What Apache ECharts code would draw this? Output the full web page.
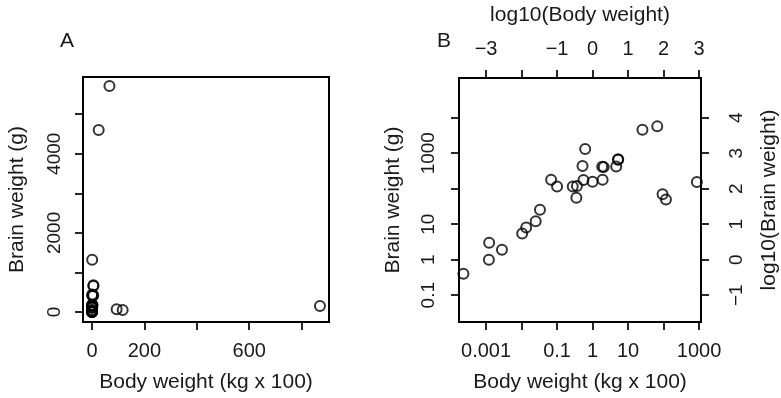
<!DOCTYPE html>
<html><head><meta charset="utf-8">
<script src="https://cdn.jsdelivr.net/npm/echarts@6/dist/echarts.min.js"></script>
<style>html,body{margin:0;padding:0;background:#fff}#c{width:781px;height:398px}</style>
</head><body><div id="c"></div>
<script>
// Animals: body weight (kg x 100) and brain weight (g)
const animals = ["Mountain beaver","Cow","Grey wolf","Goat","Guinea pig","Dipliodocus","Asian elephant","Donkey","Horse","Potar monkey","Cat","Giraffe","Gorilla","Human","African elephant","Triceratops","Rhesus monkey","Kangaroo","Golden hamster","Mouse","Rabbit","Sheep","Jaguar","Chimpanzee","Rat","Brachiosaurus","Mole","Pig"];
const bodyWeight = [0.0135,4.65,0.3633,0.2766,0.0104,117,25.47,1.871,5.21,0.1,0.033,5.29,2.07,0.62,66.54,94,0.068,0.35,0.0012,0.00023,0.025,0.555,1.0,0.5216,0.0028,870,0.00122,1.92];
const brainWeight = [8.1,423,119.5,115,5.5,50,4603,419,655,115,25.6,680,406,1320,5712,70,179,56,1,0.4,12.1,175,157,440,1.9,154.5,3,180];

const aXTicks = [0,200,400,600,800];
const aXLabels = [0,200,600];
const aYTicks = [0,1000,2000,3000,4000,5000];
const aYLabels = [0,2000,4000];
const bXTicks = [0.001,0.01,0.1,1,10,100,1000];
const bXLabels = [0.001,0.1,1,10,1000];
const bTopTicks = [-3,-2,-1,0,1,2,3];
const bTopLabels = [-3,-1,0,1,2,3];
const bYTicks = [0.1,1,10,100,1000,10000];
const bYLabels = [0.1,1,10,1000];
const bRightTicks = [-1,0,1,2,3,4];
const bRightLabels = [-1,0,1,2,3,4];

const points = bodyWeight.map((b,i)=>[b, brainWeight[i], animals[i]]);

const FONT = 'Liberation Sans, Arial, Helvetica, sans-serif';
const TXT = '#1a1a1a';
const fmtNum = v => String(Number(Number(v).toPrecision(6))).replace('-', '\u2212');

function axisCommon(ticks, labels, extra) {
  return Object.assign({
    axisLine: {show: false, onZero: false},
    axisTick: {show: true, inside: false, length: 8, customValues: ticks, lineStyle: {color: '#000', width: 1.7}},
    axisLabel: {show: true, customValues: labels, formatter: fmtNum, color: TXT, fontSize: 20, fontFamily: FONT, margin: 19},
    splitLine: {show: false},
    nameTextStyle: {color: TXT, fontSize: 21, fontFamily: FONT},
    nameLocation: 'middle'
  }, extra);
}

const chart = echarts.init(document.getElementById('c'), null, {renderer: 'canvas'});
const option = {
  animation: false,
  backgroundColor: '#fff',
  grid: [
    {left: 83, top: 77, width: 246, height: 245, show: true, borderColor: '#000', borderWidth: 2, backgroundColor: 'transparent'},
    {left: 459, top: 77, width: 245, height: 245, show: true, borderColor: '#000', borderWidth: 2, backgroundColor: 'transparent'}
  ],
  graphic: [
    {type: 'text', left: 60, top: 31, style: {text: 'A', fontSize: 21, fontFamily: FONT, fill: TXT}},
    {type: 'text', left: 437, top: 31, style: {text: 'B', fontSize: 21, fontFamily: FONT, fill: TXT}}
  ],
  xAxis: [
    axisCommon(aXTicks, aXLabels, {type: 'value', gridIndex: 0, min: -34.4, max: 904.5, position: 'bottom', name: 'Body weight (kg x 100)', nameGap: 50}),
    axisCommon(bXTicks, bXLabels, {type: 'log', logBase: 10, gridIndex: 1, min: 1.726e-4, max: 1137.6, position: 'bottom', name: 'Body weight (kg x 100)', nameGap: 50}),
    axisCommon(bTopTicks, bTopLabels, {type: 'value', gridIndex: 1, min: -3.763, max: 3.056, position: 'top', name: 'log10(Body weight)', nameGap: 52})
  ],
  yAxis: [
    axisCommon(aYTicks, aYLabels, {type: 'value', gridIndex: 0, min: -252, max: 5941, position: 'left', name: 'Brain weight (g)', nameGap: 55}),
    axisCommon(bYTicks, bYLabels, {type: 'log', logBase: 10, gridIndex: 1, min: 0.01754, max: 131826, position: 'left', name: 'Brain weight (g)', nameGap: 55}),
    axisCommon(bRightTicks, bRightLabels, {type: 'value', gridIndex: 1, min: -1.756, max: 5.12, position: 'right', name: 'log10(Brain weight)', nameGap: 58})
  ],
  series: [
    {type: 'scatter', xAxisIndex: 0, yAxisIndex: 0, data: points, symbol: 'circle', symbolSize: 10,
     itemStyle: {color: 'rgba(0,0,0,0)', borderColor: '#000', borderWidth: 2}},
    {type: 'scatter', xAxisIndex: 1, yAxisIndex: 1, data: points, symbol: 'circle', symbolSize: 10,
     itemStyle: {color: 'rgba(0,0,0,0)', borderColor: '#000', borderWidth: 2}}
  ]
};
option.yAxis.forEach(a => { a.axisLabel.rotate = 90; a.axisLabel.fontSize = 19; a.nameTextStyle.fontSize = 21; });
option.yAxis[1].axisLabel.margin = 21;
option.yAxis[2].axisLabel.margin = 26;
chart.setOption(option);
</script></body></html>
